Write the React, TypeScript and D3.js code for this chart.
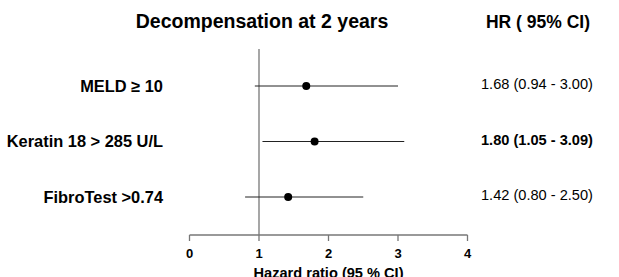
import React from 'react';
import { scaleLinear, scalePoint } from 'd3';

// rows of the forest plot
const labels = ['MELD ≥ 10', 'Keratin 18 > 285 U/L', 'FibroTest >0.74'];
const hr = [1.68, 1.8, 1.42];
const lower = [0.94, 1.05, 0.8];
const upper = [3.0, 3.09, 2.5];
const hrText = ['1.68 (0.94 - 3.00)', '1.80 (1.05 - 3.09)', '1.42 (0.80 - 2.50)'];
const boldRow = [false, true, false];
const ticks = [0, 1, 2, 3, 4];

export default function App() {
  const width = 619,
    height = 277;
  const font = 'Liberation Sans, Arial, sans-serif';

  const x = scaleLinear().domain([0, 4]).range([189.5, 467.5]);
  const y = scalePoint<string>().domain(labels).range([86, 197]);
  const axisY = 235;

  return (
    <svg
      width={width}
      height={height}
      style={{ position: 'absolute', left: 0, top: 0 }}
      fontFamily={font}
    >
      <rect width={width} height={height} fill="#fff" />

      {/* titles */}
      <text x={262} y={28} textAnchor="middle" fontSize={19.5} fontWeight="bold">
        Decompensation at 2 years
      </text>
      <text x={538} y={28} textAnchor="middle" fontSize={17.5} fontWeight="bold">
        HR ( 95% CI)
      </text>

      {/* reference line at HR = 1 */}
      <line x1={x(1)} x2={x(1)} y1={49} y2={axisY} stroke="#777" strokeWidth={1.3} />

      {/* rows */}
      {labels.map((l, i) => (
        <g key={l}>
          <text
            x={163}
            y={y(l)! + 5.5}
            textAnchor="end"
            fontSize={16.4}
            fontWeight="bold"
          >
            {l}
          </text>
          <line
            x1={x(lower[i])}
            x2={x(upper[i])}
            y1={y(l)}
            y2={y(l)}
            stroke="#222"
            strokeWidth={1}
          />
          <circle cx={x(hr[i])} cy={y(l)} r={4} fill="#000" />
          <text
            x={481}
            y={y(l)! + 3}
            fontSize={14.6}
            fontWeight={boldRow[i] ? 'bold' : 'normal'}
          >
            {hrText[i]}
          </text>
        </g>
      ))}

      {/* x axis */}
      <line x1={x(0)} x2={x(4)} y1={axisY} y2={axisY} stroke="#777" strokeWidth={1.3} />
      {ticks.map((t) => (
        <g key={t}>
          <line x1={x(t)} x2={x(t)} y1={axisY} y2={axisY + 6} stroke="#777" strokeWidth={1.3} />
          <text x={x(t)} y={axisY + 22.5} textAnchor="middle" fontSize={13} fontWeight="bold">
            {t}
          </text>
        </g>
      ))}
      <text x={(x(0) + x(4)) / 2} y={axisY + 43} textAnchor="middle" fontSize={14.6} fontWeight="bold">
        Hazard ratio (95 % CI)
      </text>
    </svg>
  );
}
